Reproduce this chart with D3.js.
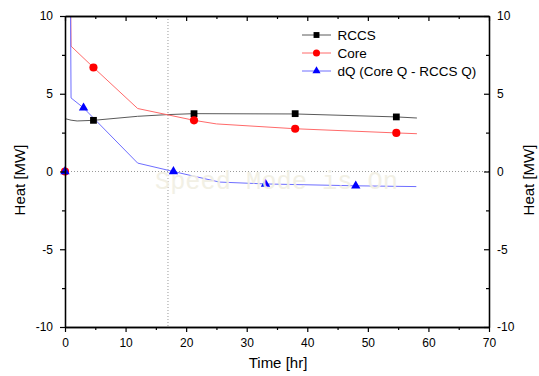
<!DOCTYPE html>
<html>
  <head>
    <meta charset="UTF-8">
    <title>Heat vs Time</title>
    <script src="https://d3js.org/d3.v7.min.js"></script>
    <style>
      body { margin: 0; background: #fff; }
      text { font-family: "Liberation Sans", Arial, sans-serif; }
    </style>
  </head>
  <body>
    <div id="chart"></div>
    <script>
      // series data (time in hr, heat in MW)
      const rccsLine = [[0, 3.4], [1, 3.3], [2, 3.25], [4.7, 3.29], [12, 3.55], [17, 3.66], [21.3, 3.72], [38, 3.7], [54.7, 3.51], [58.1, 3.44]];
      const coreLine = [[0, 0], [0.1, 14], [0.86, 14], [1.0, 8.06], [4.7, 6.69], [12, 4.05], [21.3, 3.29], [25, 3.06], [38, 2.75], [54.7, 2.48], [58.1, 2.43]];
      const dqLine = [[0, 0], [0.1, 14], [0.86, 14], [1.0, 4.73], [3.06, 4.09], [12, 0.54], [17.9, 0], [25.5, -0.68], [33.1, -0.8], [48, -0.92], [58, -0.97]];

      // the sparse symbols on each curve
      const rccsMarkX = [4.7, 21.3, 38, 54.7];
      const rccsMarkY = [3.29, 3.72, 3.72, 3.51];
      const coreMarkX = [0, 4.7, 21.3, 38, 54.7];
      const coreMarkY = [0, 6.69, 3.29, 2.75, 2.48];
      const dqMarkX = [0, 3.06, 17.9, 33.1, 48];
      const dqMarkY = [0, 4.09, 0, -0.8, -0.92];

      const xTicks = [0, 10, 20, 30, 40, 50, 60, 70];
      const xMinor = [5, 15, 25, 35, 45, 55, 65];
      const yTicks = [-10, -5, 0, 5, 10];
      const yMinor = [-7.5, -2.5, 2.5, 7.5];
      const markerTime = 17; // vertical dotted line
      const legendNames = ["RCCS", "Core", "dQ (Core Q - RCCS Q)"];

      const margin = {top: 16, right: 50, bottom: 49, left: 65};
      const width = 539 - margin.left - margin.right;
      const height = 376 - margin.top - margin.bottom;

      const svg = d3.select("#chart")
        .append("svg")
        .attr("width", 539)
        .attr("height", 376);

      const g = svg.append("g")
        .attr("transform", `translate(${margin.left},${margin.top})`);

      const x = d3.scaleLinear().domain([0, 70]).range([0, width]);
      const y = d3.scaleLinear().domain([-10, 10]).range([height, 0]);

      g.append("clipPath").attr("id", "clip")
        .append("rect").attr("width", width).attr("height", height);

      // dotted reference lines
      g.append("line")
        .attr("x1", 0).attr("x2", width)
        .attr("y1", y(0)).attr("y2", y(0))
        .attr("stroke", "#9a9a9a").attr("stroke-dasharray", "1,2");
      g.append("line")
        .attr("x1", x(markerTime)).attr("x2", x(markerTime))
        .attr("y1", 0).attr("y2", height)
        .attr("stroke", "#9a9a9a").attr("stroke-dasharray", "1,2");

      const line = d3.line().x(d => x(d[0])).y(d => y(d[1]));
      const plot = g.append("g").attr("clip-path", "url(#clip)");

      const series = [
        {line: rccsLine, mx: rccsMarkX, my: rccsMarkY, stroke: "#5a5a5a", fill: "#000", sym: d3.symbolSquare, size: 46},
        {line: coreLine, mx: coreMarkX, my: coreMarkY, stroke: "#ff6a6a", fill: "#ff0000", sym: d3.symbolCircle, size: 52},
        {line: dqLine, mx: dqMarkX, my: dqMarkY, stroke: "#6e6eff", fill: "#0000ff", sym: d3.symbolTriangle, size: 38}
      ];

      series.forEach(s => {
        plot.append("path")
          .attr("d", line(s.line))
          .attr("fill", "none")
          .attr("stroke", s.stroke)
          .attr("stroke-width", 1);
      });

      // symbols drawn after all lines
      series.forEach(s => {
        g.selectAll(null)
          .data(s.mx.map((v, i) => [v, s.my[i]]))
          .join("path")
          .attr("transform", d => `translate(${x(d[0])},${y(d[1])})`)
          .attr("d", d3.symbol().type(s.sym).size(s.size))
          .attr("fill", s.fill);
      });

      // watermark
      g.append("text")
        .attr("x", 155 - margin.left)
        .attr("y", 189 - margin.top)
        .style("font-family", "'Liberation Mono', 'DejaVu Sans Mono', monospace")
        .attr("font-size", "25.3px")
        .attr("fill", "#f1efe3")
        .attr("opacity", 0.9)
        .text("Speed Mode is On");

      // axes, plain hyphen for negatives like the original
      const fmt = d => String(d);
      const styleAxis = sel => {
        sel.selectAll(".domain").attr("stroke", "#000").attr("stroke-width", 1.3);
        sel.selectAll(".tick line").attr("stroke", "#000").attr("stroke-width", 1.2);
        sel.selectAll(".tick text").attr("font-size", "12px").attr("fill", "#000")
          .style("font-family", "'Liberation Sans', Arial, sans-serif");
      };

      g.append("g").attr("transform", `translate(0,${height})`)
        .call(d3.axisBottom(x).tickValues(xTicks).tickFormat(fmt).tickSize(5).tickSizeOuter(0).tickPadding(6))
        .call(styleAxis);
      g.append("g").attr("transform", `translate(0,${height})`)
        .call(d3.axisBottom(x).tickValues(xMinor).tickSize(3).tickSizeOuter(0).tickFormat(""))
        .call(styleAxis);

      g.append("g")
        .call(d3.axisLeft(y).tickValues(yTicks).tickFormat(fmt).tickSize(5).tickSizeOuter(0).tickPadding(7))
        .call(styleAxis);
      g.append("g")
        .call(d3.axisLeft(y).tickValues(yMinor).tickSize(3).tickSizeOuter(0).tickFormat(""))
        .call(styleAxis);

      // mirrored top and right axes, ticks pointing inward
      g.append("g")
        .call(d3.axisTop(x).tickValues(xTicks).tickSize(-5).tickSizeOuter(0).tickFormat(""))
        .call(styleAxis);
      g.append("g")
        .call(d3.axisTop(x).tickValues(xMinor).tickSize(-3).tickSizeOuter(0).tickFormat(""))
        .call(styleAxis);
      g.append("g").attr("transform", `translate(${width},0)`)
        .call(d3.axisRight(y).tickValues(yTicks).tickFormat(fmt).tickSize(-5).tickSizeOuter(0).tickPadding(8))
        .call(styleAxis);
      g.append("g").attr("transform", `translate(${width},0)`)
        .call(d3.axisRight(y).tickValues(yMinor).tickSize(-3).tickSizeOuter(0).tickFormat(""))
        .call(styleAxis);

      // axis titles
      svg.append("text")
        .attr("x", 278).attr("y", 368)
        .attr("text-anchor", "middle")
        .attr("font-size", "15px")
        .text("Time [hr]");
      svg.append("text")
        .attr("transform", "translate(25,180) rotate(-90)")
        .attr("text-anchor", "middle")
        .attr("font-size", "15px")
        .text("Heat [MW]");
      svg.append("text")
        .attr("transform", "translate(534,180) rotate(-90)")
        .attr("text-anchor", "middle")
        .attr("font-size", "15px")
        .text("Heat [MW]");

      // legend
      const legend = svg.append("g").attr("transform", "translate(302,35)");
      series.forEach((s, i) => {
        const row = legend.append("g").attr("transform", `translate(0,${i * 18})`);
        row.append("line").attr("x1", 0).attr("x2", 29)
          .attr("stroke", s.stroke).attr("stroke-width", 1);
        row.append("path")
          .attr("transform", "translate(14.5,0)")
          .attr("d", d3.symbol().type(s.sym).size(s.size * 0.75))
          .attr("fill", s.fill);
        row.append("text")
          .attr("x", 35.5).attr("dy", "0.35em")
          .attr("font-size", "13.5px")
          .text(legendNames[i]);
      });
    </script>
  </body>
</html>
